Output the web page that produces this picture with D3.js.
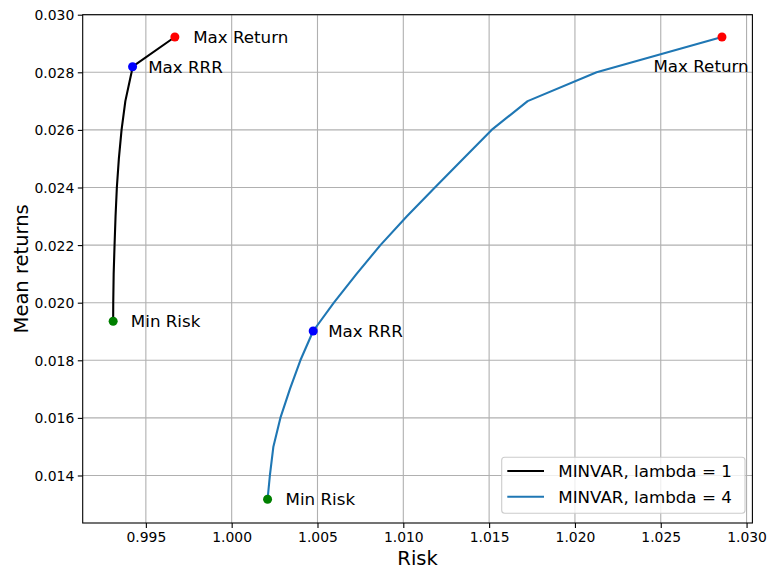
<!DOCTYPE html>
<html>
<head>
<meta charset="utf-8">
<script src="https://cdn.jsdelivr.net/npm/d3@7"></script>
<style>
  html, body { margin: 0; padding: 0; background: #fff; }
  svg { display: block; font-family: "DejaVu Sans", sans-serif; }
</style>
</head>
<body>
<svg id="chart" width="768" height="570"></svg>
<script>
// frontier, lambda = 1
var riskL1 = [0.993094, 0.993100, 0.993124, 0.993176, 0.993234, 0.993310, 0.993427, 0.993584, 0.993805, 0.994167, 0.994225, 0.996690]
var retL1 = [0.019354, 0.020, 0.021, 0.022, 0.023, 0.024, 0.025, 0.026, 0.027, 0.028, 0.028194, 0.029226]

// frontier, lambda = 4
var riskL4 = [1.002092, 1.002226, 1.002430, 1.002838, 1.003392, 1.004004, 1.004749, 1.005956, 1.007279, 1.008666, 1.010210, 1.011842, 1.013491, 1.015146, 1.017244, 1.021264, 1.028567]
var retL4 = [0.013174, 0.014, 0.015, 0.016, 0.017, 0.018, 0.019017, 0.020, 0.021, 0.022, 0.023, 0.024, 0.025, 0.026, 0.027, 0.028, 0.029226]

// marked portfolios
var pointNames = ['Min Risk', 'Max RRR', 'Max Return', 'Min Risk', 'Max RRR', 'Max Return']
var pointRisk = [0.993094, 0.994225, 0.996690, 1.002092, 1.004749, 1.028567]
var pointRet = [0.019354, 0.028194, 0.029226, 0.013174, 0.019017, 0.029226]

var seriesNames = ['MINVAR, lambda = 1', 'MINVAR, lambda = 4']

var xTicks = [0.995, 1.000, 1.005, 1.010, 1.015, 1.020, 1.025, 1.030]
var yTicks = [0.014, 0.016, 0.018, 0.020, 0.022, 0.024, 0.026, 0.028, 0.030]

var W = 768, H = 570
var margin = {top: 14.7, right: 15.6, bottom: 47, left: 82.7}

var svg = d3.select('#chart')
svg.append('rect').attr('width', W).attr('height', H).attr('fill', '#fff')

var x = d3.scaleLinear().domain([0.99132, 1.03034]).range([margin.left, W - margin.right])
var y = d3.scaleLinear().domain([0.01235, 0.0300]).range([H - margin.bottom, margin.top])

var gridColor = '#b0b0b0'

// grid
var grid = svg.append('g')
grid.selectAll('.gx').data(xTicks).enter().append('line')
  .attr('x1', d => x(d)).attr('x2', d => x(d))
  .attr('y1', y.range()[0]).attr('y2', y.range()[1])
  .attr('stroke', gridColor).attr('stroke-width', 1.1)
grid.selectAll('.gy').data(yTicks).enter().append('line')
  .attr('y1', d => y(d)).attr('y2', d => y(d))
  .attr('x1', x.range()[0]).attr('x2', x.range()[1])
  .attr('stroke', gridColor).attr('stroke-width', 1.1)

// axes
var xAxis = d3.axisBottom(x).tickValues(xTicks).tickFormat(d3.format('.3f')).tickSizeInner(4.9).tickSizeOuter(0).tickPadding(3.5)
var yAxis = d3.axisLeft(y).tickValues(yTicks).tickFormat(d3.format('.3f')).tickSizeInner(4.9).tickSizeOuter(0).tickPadding(3.5)

var gx = svg.append('g').attr('transform', 'translate(0,' + y.range()[0] + ')').call(xAxis)
var gy = svg.append('g').attr('transform', 'translate(' + x.range()[0] + ',0)').call(yAxis)
;[gx, gy].forEach(function(g) {
  g.select('.domain').remove()
  g.selectAll('.tick line').attr('stroke', '#000').attr('stroke-width', 1.1)
  g.selectAll('.tick text').attr('fill', '#000').style('font-size', '13.9px').style('font-family', '"DejaVu Sans"')
})
gx.selectAll('.tick text').attr('dy', '0.76em')
gy.selectAll('.tick text').attr('dy', '0.36em')

// lines
var line = d3.line().x(d => x(d[0])).y(d => y(d[1]))
var plot = svg.append('g')
plot.append('path').datum(d3.zip(riskL1, retL1)).attr('d', line)
  .attr('fill', 'none').attr('stroke', '#000').attr('stroke-width', 2.1).attr('stroke-linejoin', 'round')
plot.append('path').datum(d3.zip(riskL4, retL4)).attr('d', line)
  .attr('fill', 'none').attr('stroke', '#1f77b4').attr('stroke-width', 2.1).attr('stroke-linejoin', 'round')

// markers and their labels
var dotColor = {'Min Risk': '#008000', 'Max RRR': '#0000ff', 'Max Return': '#ff0000'}
var labelOffset = [[17.7, 0], [15.6, 0], [18.3, 0], [18, 0], [15, 0], [-68.5, 28.8]]

pointNames.forEach(function(name, i) {
  var px = x(pointRisk[i]), py = y(pointRet[i])
  plot.append('circle').attr('cx', px).attr('cy', py).attr('r', 4.5).attr('fill', dotColor[name])
  plot.append('text')
    .attr('x', px + labelOffset[i][0])
    .attr('y', py + labelOffset[i][1] + 6.1)
    .style('font-size', '16.7px')
    .attr('fill', '#000')
    .text(name)
})

// frame
svg.append('rect')
  .attr('x', x.range()[0]).attr('y', y.range()[1])
  .attr('width', x.range()[1] - x.range()[0]).attr('height', y.range()[0] - y.range()[1])
  .attr('fill', 'none').attr('stroke', '#000').attr('stroke-width', 1.1)

// axis labels
svg.append('text').attr('x', (x.range()[0] + x.range()[1]) / 2).attr('y', 565)
  .attr('text-anchor', 'middle').style('font-size', '19.5px').text('Risk')
svg.append('text')
  .attr('transform', 'translate(28.3,' + (y.range()[0] + y.range()[1]) / 2 + ') rotate(-90)')
  .attr('text-anchor', 'middle').style('font-size', '19.5px').text('Mean returns')

// legend
var legend = svg.append('g')
legend.append('rect').attr('x', 501.7).attr('y', 457.3).attr('width', 243.3).attr('height', 56)
  .attr('rx', 3).attr('fill', '#fff').attr('fill-opacity', 0.8).attr('stroke', '#cccccc').attr('stroke-width', 1.1)
var legendColors = ['#000', '#1f77b4']
seriesNames.forEach(function(name, i) {
  var ly = 471 + i * 25.7
  legend.append('line').attr('x1', 507.3).attr('x2', 544).attr('y1', ly).attr('y2', ly)
    .attr('stroke', legendColors[i]).attr('stroke-width', 2.1)
  legend.append('text').attr('x', 558.3).attr('y', ly + 6.1).style('font-size', '16.7px').text(name)
})
</script>
</body>
</html>
